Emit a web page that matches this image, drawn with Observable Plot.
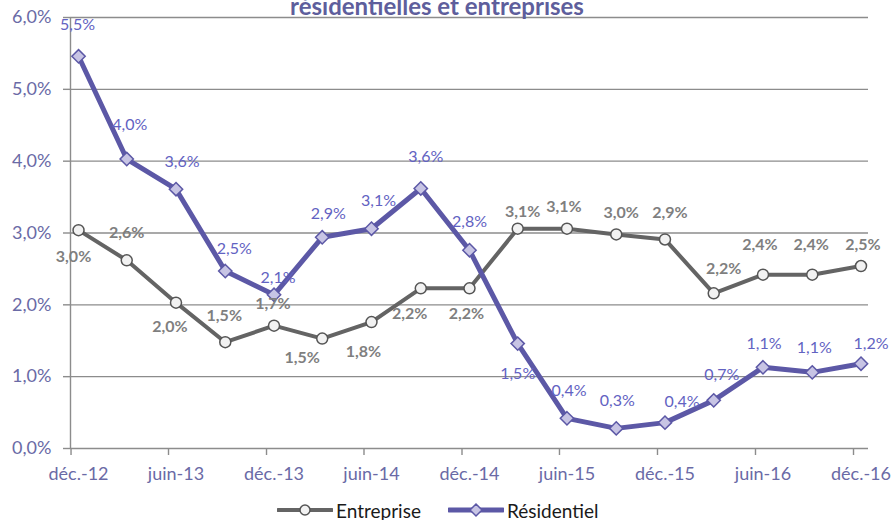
<!DOCTYPE html>
<html><head><meta charset="utf-8">
<script src="https://cdn.jsdelivr.net/npm/d3@7"></script>
<script src="https://cdn.jsdelivr.net/npm/@observablehq/plot@0.6"></script>
<style>
body{margin:0;background:#fff;font-family:Lato,sans-serif}
#wrap{position:relative;width:895px;height:520px;overflow:hidden;background:#fff}
#chart{position:absolute;left:0;top:0}
#title{position:absolute;left:0;top:-6px;width:874px;text-align:center;font:bold 24px/24px Lato,sans-serif;color:#5e5e9c;white-space:nowrap}
#legend{position:absolute;left:277px;top:497px;height:26px;display:flex;align-items:center;font:19px Lato,sans-serif;color:#1a1a1a}
#legend .item{display:flex;align-items:center}
#legend svg{margin-right:3px}
</style>
</head><body>
<div id="wrap">
<div id="chart"></div>
<div id="title">résidentielles et entreprises</div>
<div id="legend"></div>
</div>
<script>
// ---- data ----
const dates = ["2012-12-15","2013-03-15","2013-06-15","2013-09-15","2013-12-15","2014-03-15","2014-06-15","2014-09-15","2014-12-15","2015-03-15","2015-06-15","2015-09-15","2015-12-15","2016-03-15","2016-06-15","2016-09-15","2016-12-15"];
const entreprise = [3.04,2.62,2.03,1.48,1.71,1.53,1.76,2.23,2.23,3.06,3.06,2.98,2.91,2.16,2.42,2.42,2.54];
const residentiel = [5.46,4.03,3.61,2.47,2.14,2.94,3.06,3.62,2.76,1.46,0.42,0.28,0.36,0.67,1.13,1.06,1.18];
const seriesNames = ["Entreprise","Résidentiel"];
const tickDates = ["2012-12-01","2013-06-01","2013-12-01","2014-06-01","2014-12-01","2015-06-01","2015-12-01","2016-06-01","2016-12-01"];
const labelDates = ["2012-12-15","2013-06-15","2013-12-15","2014-06-15","2014-12-15","2015-06-15","2015-12-15","2016-06-15","2016-12-15"];
const tickLabels = ["déc.-12","juin-13","déc.-13","juin-14","déc.-14","juin-15","déc.-15","juin-16","déc.-16"];
const yTicks = [0,1,2,3,4,5,6];
const xDomain = ["2012-11-30","2016-12-29"];
// label offsets [dx, dy] per point
const entOffsets = [[-5,27],[0,-27],[-6,24],[-1,-26],[-1,-22],[-20,19],[-8,30],[-11,26],[-3,26],[5,-17],[-3,-22],[5,-22],[5,-27],[10,-24],[-3,-30],[-1,-30],[2,-21]];
const resOffsets = [[-1,-31],[3,-34],[6,-27],[9,-22],[4,-17],[6,-23],[7,-28],[5,-32],[0,-28],[0,30],[2,-27],[1,-28],[17,-21],[8,-25],[1,-23],[2,-24],[10,-20]];

// ---- styles ----
const gray = "#8c8c8c";
const axisText = "#6a6aa6";
const entColor = "#646464";
const resColor = "#5c58a6";
const resLabel = "#6262c2";
const entLabel = "#7f7f7f";

const fmt = v => v.toFixed(1).replace(".", ",") + "%";
const utc = s => new Date(s + "T00:00:00Z");
const ent = dates.map((d,i) => ({date: utc(d), value: entreprise[i], series: seriesNames[0]}));
const res = dates.map((d,i) => ({date: utc(d), value: residentiel[i], series: seriesNames[1]}));
const labelMap = new Map(labelDates.map((d,i) => [+utc(d), tickLabels[i]]));

const entLabels = ent.map((d,i) => Plot.text([d], {x:"date", y:"value", text: d => fmt(d.value), dx: entOffsets[i][0], dy: entOffsets[i][1], fill: entLabel, fontWeight: "bold", fontSize: 16}));
const resLabels = res.map((d,i) => Plot.text([d], {x:"date", y:"value", text: d => fmt(d.value), dx: resOffsets[i][0], dy: resOffsets[i][1], fill: resLabel, fontSize: 16}));

const chart = Plot.plot({
  width: 895, height: 492,
  marginLeft: 70, marginRight: 27, marginTop: 17, marginBottom: 44,
  style: {fontFamily: "Lato, sans-serif", fontSize: "18px", background: "#fff"},
  x: {type: "utc", domain: xDomain.map(utc)},
  y: {domain: [0, 6]},
  marks: [
    Plot.gridY(yTicks.slice(1), {stroke: gray, strokeOpacity: 1, strokeWidth: 1.4}),
    Plot.ruleY([yTicks[0]], {stroke: gray, strokeWidth: 1.4}),
    Plot.ruleX([utc(xDomain[0])], {stroke: gray, strokeWidth: 1.4}),
    Plot.axisY(yTicks, {tickSize: 7, tickPadding: 12, tickFormat: fmt, stroke: gray, strokeWidth: 1.4, color: axisText, fontSize: 18, label: null}),
    Plot.axisX(tickDates.map(utc), {tickSize: 7, tickFormat: () => "", stroke: gray, strokeWidth: 1.4, label: null}),
    Plot.axisX(labelDates.map(utc), {tickSize: 0, tickPadding: 19, tickFormat: d => labelMap.get(+d), color: axisText, fontSize: 18, label: null}),
    Plot.line(ent, {x: "date", y: "value", stroke: entColor, strokeWidth: 4, strokeLinejoin: "round"}),
    Plot.dot(ent, {x: "date", y: "value", symbol: "circle", r: 5.5, fill: "#f2f2f2", stroke: "#555", strokeWidth: 1.5}),
    Plot.line(res, {x: "date", y: "value", stroke: resColor, strokeWidth: 5, strokeLinejoin: "round"}),
    Plot.dot(res, {x: "date", y: "value", symbol: "diamond2", r: 6, fill: "#c7c4e4", stroke: resColor, strokeWidth: 1.5}),
    ...entLabels,
    ...resLabels
  ]
});
document.getElementById("chart").appendChild(chart);

// legend
const legend = document.getElementById("legend");
const items = [
  {name: seriesNames[0], color: entColor, width: 4, marker: `<circle cx="28" cy="8" r="5" fill="#f2f2f2" stroke="#555" stroke-width="1.5"/>`},
  {name: seriesNames[1], color: resColor, width: 5, marker: `<polygon points="28,2 34,8 28,14 22,8" fill="#c7c4e4" stroke="${resColor}" stroke-width="1.5"/>`}
];
items.forEach((it, i) => {
  const el = document.createElement("div");
  el.className = "item";
  if (i > 0) el.style.marginLeft = "27px";
  el.innerHTML = `<svg width="56" height="16"><line x1="1" y1="8" x2="55" y2="8" stroke="${it.color}" stroke-width="${it.width}" stroke-linecap="round"/>${it.marker}</svg><span>${it.name}</span>`;
  legend.appendChild(el);
});
</script>
</body></html>
